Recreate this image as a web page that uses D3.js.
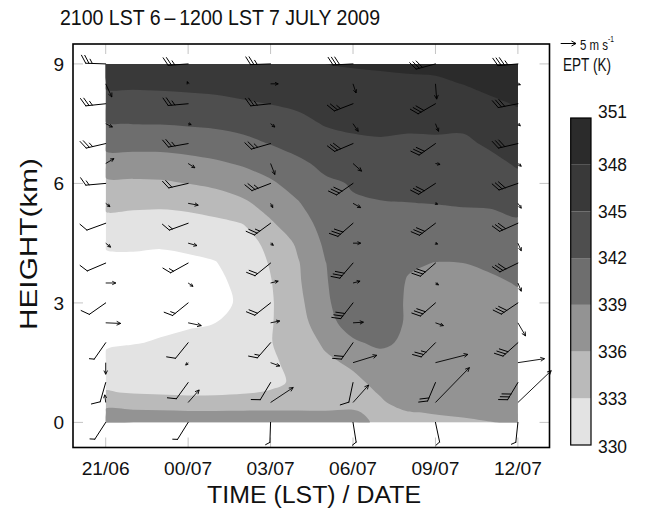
<!DOCTYPE html>
<html><head><meta charset="utf-8">
<script src="https://cdn.jsdelivr.net/npm/d3@7"></script>
<style>
body{margin:0;background:#fff}
svg{display:block}
text{font-family:"Liberation Sans",Arial,Helvetica,sans-serif;fill:#111}
</style>
</head><body>
<svg id="c" width="658" height="508"></svg>
<script>
// ---------------- DATA ----------------
const titleText = "2100 LST 6\u2009\u2013\u20091200 LST 7 JULY 2009";
// time axis: hours after 2100 LST 6 July
const timeTicks = [0, 3, 6, 9, 12, 15];
const timeLabels = ["21/06", "00/07", "03/07", "06/07", "09/07", "12/07"];
const heightTicks = [0, 3, 6, 9];
const eptLevels = [330, 333, 336, 339, 342, 345, 348, 351];
const eptColors = ["#e3e3e3", "#bababa", "#939393", "#6e6e6e", "#4e4e4e", "#393939", "#2b2b2b"];

// EPT grid: one array per hour (gridTimes), values at gridHeights (km)
const gridTimes = [0, 1, 2, 3, 4, 5, 6, 7, 8, 9, 10, 11, 12, 13, 14, 15];
const gridHeights = [0, 0.25, 0.5, 0.75, 1, 1.5, 2, 2.5, 3, 3.5, 4, 4.5, 5, 5.5, 6, 6.5, 7, 7.5, 8, 8.5, 9];
const eptGrid = [
  [337.5,336.6,335.0,333.2,332.3,330.5,329.7,329.1,328.5,329.05,329.6,330.2,332.05,333.7,335.4,337.6,339.9,341.9,343.75,345.5,347.0],
  [337.5,336.5,334.7,332.8,332.3,331.0,329.9,329.35,328.8,329.1,329.6,330.3,331.9,333.6,335.5,337.7,339.9,342.05,343.8,345.5,347.0],
  [337.5,336.4,334.6,332.6,332.3,331.2,330.15,329.6,329.2,329.25,329.65,330.15,331.8,333.5,335.6,337.75,339.9,342.1,343.9,345.6,347.1],
  [337.5,336.3,334.4,332.4,332.3,331.35,330.4,329.8,329.45,329.5,329.75,330.3,331.95,333.8,336.05,338.1,340.2,342.3,344.1,345.7,347.2],
  [337.5,336.3,334.4,332.5,332.45,331.6,330.8,330.0,329.5,329.5,329.9,330.9,332.4,334.4,336.6,338.6,340.6,342.5,344.3,345.85,347.3],
  [337.5,336.3,334.6,332.8,332.7,332.1,331.5,330.9,330.3,330.6,331.3,332.1,333.05,335.5,337.5,339.3,341.2,342.95,344.7,346.1,347.5],
  [337.5,336.3,334.8,333.2,332.5,332.6,332.9,332.8,332.7,332.85,333.2,333.6,335.7,337.1,338.6,340.3,342.1,343.6,345.05,346.4,347.8],
  [337.8,336.3,334.8,334.0,333.4,333.8,334.3,334.7,335.2,335.6,335.8,336.5,337.6,338.8,340.1,341.5,342.9,344.2,345.5,346.7,347.9],
  [337.8,336.2,335.0,334.6,334.6,335.4,336.5,338.0,338.6,338.8,338.95,339.5,340.15,340.9,341.6,342.6,343.9,345.2,346.1,347.1,348.0],
  [337.6,336.3,335.2,335.0,335.3,336.5,338.6,340.3,340.6,340.8,340.9,341.2,341.5,341.8,342.15,343.4,344.5,345.5,346.4,347.3,348.2],
  [335.0,335.3,335.7,336.2,336.8,337.6,339.6,340.3,340.4,340.6,340.8,341.1,341.4,341.85,342.8,343.7,344.7,345.6,346.5,347.45,348.3],
  [335.4,335.9,337.0,337.4,337.7,338.1,338.4,338.7,338.7,338.8,339.3,340.2,341.0,341.95,342.8,343.6,344.5,345.5,346.5,347.5,348.5],
  [335.6,336.1,336.6,337.0,337.3,337.7,338.0,338.3,338.5,338.7,338.95,339.9,341.0,342.05,342.9,343.7,344.6,345.5,346.5,347.6,348.6],
  [335.7,336.3,336.7,337.0,337.3,337.7,338.0,338.3,338.55,338.75,339.0,340.1,341.2,342.2,343.0,343.7,344.5,345.5,346.6,348.05,349.0],
  [335.95,336.5,336.8,337.1,337.4,337.8,338.1,338.4,338.6,338.85,339.15,340.1,341.2,342.3,343.3,344.3,345.4,346.5,347.6,348.6,349.3],
  [336.2,336.6,336.9,337.2,337.5,337.9,338.2,338.5,338.8,339.05,339.7,340.6,341.6,342.9,344.1,345.3,346.25,347.2,348.15,348.9,349.6]
];

// wind barbs: direction (deg, from) and speed, one array per barb time, values at barbHeights
const barbTimes = [0, 3, 6, 9, 12, 15];
const barbHeights = [0, 1, 2, 3, 4, 5, 6, 7, 8, 9];
const barbDir = [
  [213, 196, 215, 235, 247, 250, 265, 257, 264, 272],
  [212, 216, 219, 231, 241, 250, 257, 260, 265, 266],
  [182, 211, 221, 232, 231, 234, 249, 254, 264, 268],
  [171, 192, 215, 218, 221, 229, 235, 247, 249, 267],
  [168, 203, 225, 229, 229, 233, 237, 235, 240, 255],
  [186, 211, 228, 236, 244, 246, 251, 257, 259, 265]
];
const barbSpd = [
  [5, 10, 5, 10, 10, 10, 15, 25, 25, 25],
  [5, 10, 10, 15, 15, 15, 20, 25, 25, 25],
  [5, 10, 15, 20, 20, 25, 25, 25, 25, 25],
  [5, 10, 20, 30, 30, 30, 30, 30, 25, 30],
  [5, 20, 25, 30, 30, 30, 30, 30, 30, 30],
  [5, 30, 30, 30, 30, 30, 30, 30, 30, 35]
];

// vectors (m/s): horizontal u and vertical w, one array per time, values at arrowHeights
const arrowTimes = [0, 3, 6, 9, 12, 15];
const arrowHeights = [0.5, 1.5, 2.5, 3.5, 4.5, 5.5, 6.5, 7.5, 8.5];
const arrowU = [
  [-0.3, 0.0, 4.9, 3.3, 1.6, 1.4, 2.7, 2.2, 2.0],
  [3.6, -0.8, 4.3, 1.6, 2.9, 3.3, 2.2, 1.0, -0.3],
  [7.4, 3.0, 3.0, 2.5, 0.9, 0.7, 1.4, 1.4, 2.5],
  [5.1, 7.8, 3.4, 2.3, 2.5, 2.5, 2.8, 1.7, 1.0],
  [11.1, 10.6, 2.6, 1.0, 0.7, 0.7, 1.5, 1.0, 0.4],
  [10.9, 8.7, 2.5, 1.1, 1.1, 1.1, 1.1, 0.8, 0.8]
];
const arrowW = [
  [2.5, -3.8, -0.2, 0.0, -1.3, -1.1, 1.6, -1.1, -4.3],
  [4.1, -0.8, -0.9, -1.1, -0.8, -0.6, -1.4, -0.3, 0.7],
  [4.9, -1.1, 0.6, 0.6, -0.7, -1.4, -3.6, -1.1, 0.0],
  [5.7, 2.4, 0.2, 0.6, 0.0, -1.4, -2.5, -2.5, -3.0],
  [11.4, 2.7, -0.9, -0.6, -0.3, -0.3, -0.3, -2.5, -5.0],
  [10.4, 1.3, -4.3, -2.7, -2.5, -1.6, -0.9, -0.7, -0.3]
];
const refArrowSpeed = 5;

// ---------------- DRAWING ----------------
const svg = d3.select("#c");
const x = d3.scaleLinear().domain([-1.19, 16.15]).range([73, 549.5]);
const y = d3.scaleLinear().domain([-0.63, 9.5]).range([447.5, 44]);
const pxPerMs = 3.06;

// contours
const nT = gridTimes.length, nH = gridHeights.length;
const values = [];
for (let j = 0; j < nH; j++) for (let i = 0; i < nT; i++) values.push(eptGrid[i][j]);
const contours = d3.contours().size([nT, nH]).thresholds(eptLevels.slice(0, -1))(values);

function idxTo(arr, g) {
  const idx = Math.max(0, Math.min(arr.length - 1, g - 0.5));
  const i0 = Math.min(arr.length - 2, Math.floor(idx));
  return arr[i0] + (arr[i0 + 1] - arr[i0]) * (idx - i0);
}
const proj = p => [x(idxTo(gridTimes, p[0])), y(idxTo(gridHeights, p[1]))];
const ringLine = d3.line().curve(d3.curveCatmullRomClosed.alpha(0.5));
function mpPath(coords) {
  let d = "";
  coords.forEach(poly => poly.forEach(ring => {
    const out = [];
    ring.map(proj).forEach(p => {
      const q = out[out.length - 1];
      if (!q || Math.hypot(p[0] - q[0], p[1] - q[1]) > 0.05) out.push(p);
    });
    if (out.length > 1) {
      const f = out[0], l = out[out.length - 1];
      if (Math.hypot(f[0] - l[0], f[1] - l[1]) < 0.05) out.pop();
    }
    if (out.length > 2) d += ringLine(out);
  }));
  return d;
}
svg.append("defs").append("clipPath").attr("id", "clipC").append("rect")
  .attr("x", x(gridTimes[0])).attr("y", y(gridHeights[nH - 1]))
  .attr("width", x(gridTimes[nT - 1]) - x(gridTimes[0]))
  .attr("height", y(gridHeights[0]) - y(gridHeights[nH - 1]));
const cg = svg.append("g").attr("clip-path", "url(#clipC)");
contours.forEach((c, k) => {
  cg.append("path").attr("d", mpPath(c.coordinates))
    .attr("fill", eptColors[k]).attr("stroke", "none");
});

// ticks (inward, all four sides)
const tg = svg.append("g").attr("stroke", "#c4c4c4").attr("stroke-width", 1);
timeTicks.forEach(t => {
  tg.append("line").attr("x1", x(t)).attr("x2", x(t)).attr("y1", 447.5).attr("y2", 437.5);
  tg.append("line").attr("x1", x(t)).attr("x2", x(t)).attr("y1", 44).attr("y2", 54);
});
heightTicks.forEach(h => {
  tg.append("line").attr("x1", 73).attr("x2", 83).attr("y1", y(h)).attr("y2", y(h));
  tg.append("line").attr("x1", 549.5).attr("x2", 539.5).attr("y1", y(h)).attr("y2", y(h));
});

// arrows
const ag = svg.append("g").attr("stroke", "#000").attr("stroke-width", 0.9).attr("fill", "none");
function drawArrow(x0, y0, dx, dy) {
  const len = Math.hypot(dx, dy);
  const x1 = x0 + dx, y1 = y0 + dy;
  ag.append("line").attr("x1", x0).attr("y1", y0).attr("x2", x1).attr("y2", y1);
  if (len < 0.2) return;
  const a = Math.atan2(dy, dx), hl = Math.min(4.5, 2.4 + 0.15 * len), ha = 0.45;
  ag.append("path").attr("d",
    `M${x1 - hl * Math.cos(a - ha)},${y1 - hl * Math.sin(a - ha)}L${x1},${y1}L${x1 - hl * Math.cos(a + ha)},${y1 - hl * Math.sin(a + ha)}`);
}
arrowTimes.forEach((t, c) => {
  arrowHeights.forEach((h, k) => {
    drawArrow(x(t), y(h), arrowU[c][k] * pxPerMs, -arrowW[c][k] * pxPerMs);
  });
});

// wind barbs
const bg = svg.append("g").attr("stroke", "#000").attr("stroke-width", 1).attr("fill", "none")
  .attr("stroke-linecap", "round");
function drawBarb(sx, sy, dir, spd) {
  const r = dir * Math.PI / 180;
  const ux = Math.sin(r), uy = -Math.cos(r);
  const px = -uy, py = ux;
  const L = 20, full = 9, half = 4.8, gap = 3.3;
  const tx = sx + L * ux, ty = sy + L * uy;
  let d = `M${sx},${sy}L${tx},${ty}`;
  const bx = px * 0.87 + ux * 0.5, by = py * 0.87 + uy * 0.5;
  let n10 = Math.floor(spd / 10), n5 = Math.round((spd - n10 * 10) / 5);
  let pos = 0;
  for (let i = 0; i < n10; i++) {
    const qx = tx - pos * ux, qy = ty - pos * uy;
    d += `M${qx},${qy}L${qx + full * bx},${qy + full * by}`;
    pos += gap;
  }
  for (let i = 0; i < n5; i++) {
    const qx = tx - pos * ux, qy = ty - pos * uy;
    d += `M${qx},${qy}L${qx + half * bx},${qy + half * by}`;
    pos += gap;
  }
  bg.append("path").attr("d", d);
}
barbTimes.forEach((t, c) => {
  barbHeights.forEach((h, k) => drawBarb(x(t), y(h), barbDir[c][k], barbSpd[c][k]));
});

// frame
svg.append("rect").attr("x", 73).attr("y", 44).attr("width", 476.5).attr("height", 403.5)
  .attr("fill", "none").attr("stroke", "#000").attr("stroke-width", 1.6);

// axis labels
timeTicks.forEach((t, i) => {
  svg.append("text").attr("x", x(t)).attr("y", 475).attr("text-anchor", "middle")
    .attr("font-size", 18.5).attr("textLength", 48).attr("lengthAdjust", "spacingAndGlyphs")
    .text(timeLabels[i]);
});
heightTicks.forEach(h => {
  svg.append("text").attr("x", 64).attr("y", y(h) + 7).attr("text-anchor", "end")
    .attr("font-size", 19).text(h);
});
svg.append("text").attr("x", 207).attr("y", 503).attr("font-size", 23.5)
  .attr("textLength", 214).attr("lengthAdjust", "spacingAndGlyphs").text("TIME (LST) / DATE");
svg.append("text").attr("transform", "translate(37,330) rotate(-90)").attr("font-size", 24.5)
  .attr("textLength", 172).attr("lengthAdjust", "spacingAndGlyphs").text("HEIGHT(km)");
svg.append("text").attr("x", 60).attr("y", 25).attr("font-size", 21.5)
  .attr("textLength", 320).attr("lengthAdjust", "spacingAndGlyphs").text(titleText);

// reference arrow
{
  const x0 = 560.7, y0 = 43.5, dx = refArrowSpeed * pxPerMs;
  const g = svg.append("g").attr("stroke", "#000").attr("stroke-width", 1).attr("fill", "none");
  g.append("line").attr("x1", x0).attr("y1", y0).attr("x2", x0 + dx).attr("y2", y0);
  g.append("path").attr("d", `M${x0 + dx - 4.5},${y0 - 2.5}L${x0 + dx},${y0}L${x0 + dx - 4.5},${y0 + 2.5}`);
  const t = svg.append("g").attr("transform", "translate(580,49.5) scale(0.74,1)")
    .append("text").attr("x", 0).attr("y", 0).attr("font-size", 15.5);
  t.append("tspan").text(refArrowSpeed + " m s");
  t.append("tspan").attr("font-size", 9).attr("dy", -8).text("-1");
}

// colorbar
const cbTop = 118, cbBot = 445, cbX = 570.7, cbW = 20.3;
const cy = d3.scaleLinear().domain([eptLevels[0], eptLevels[eptLevels.length - 1]]).range([cbBot, cbTop]);
eptColors.forEach((col, k) => {
  svg.append("rect").attr("x", cbX).attr("width", cbW)
    .attr("y", cy(eptLevels[k + 1])).attr("height", cy(eptLevels[k]) - cy(eptLevels[k + 1]))
    .attr("fill", col);
});
svg.append("rect").attr("x", cbX).attr("y", cbTop).attr("width", cbW).attr("height", cbBot - cbTop)
  .attr("fill", "none").attr("stroke", "#000").attr("stroke-width", 1.2);
eptLevels.forEach((v, k) => {
  let yy = cy(v) + 6.3;
  if (k === eptLevels.length - 1) yy -= 6.5;
  if (k === 0) yy += 1.5;
  svg.append("text").attr("x", 598).attr("y", yy).attr("font-size", 17.5)
    .attr("textLength", 29).attr("lengthAdjust", "spacingAndGlyphs").text(v);
});
svg.append("text").attr("x", 563).attr("y", 71).attr("font-size", 19)
  .attr("textLength", 48).attr("lengthAdjust", "spacingAndGlyphs").text("EPT (K)");
</script>
</body></html>
